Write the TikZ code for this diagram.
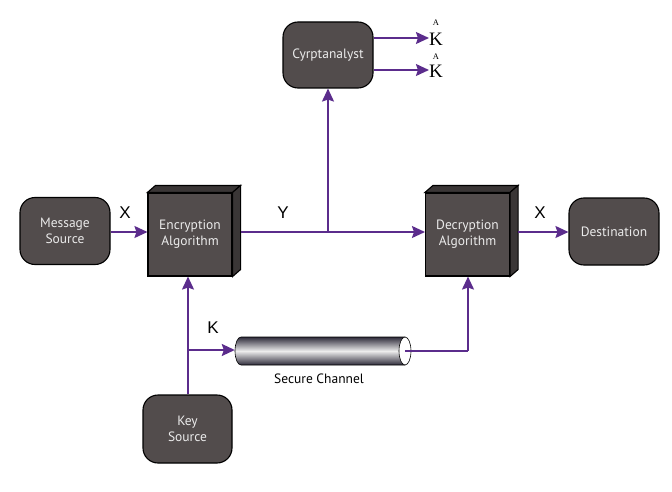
\documentclass[tikz,border=0pt]{standalone}
\usepackage{fontspec}
\setmainfont{Liberation Sans}
\newfontfamily\boxfont{PT Sans}
\newfontfamily\serffont{Liberation Serif}
\usetikzlibrary{arrows.meta,calc}
\definecolor{boxfill}{HTML}{524C4C}
\definecolor{boxside}{HTML}{3A3636}
\definecolor{flow}{HTML}{5B2C8C}
\definecolor{cyl}{HTML}{2E2B3A}
\tikzset{
  rbox/.style={draw=black, line width=1.1pt, fill=boxfill, rounded corners=15pt,
    minimum width=90pt, minimum height=67pt, align=center, text=white!92!black,
    font=\boxfont\fontsize{13.5}{16}\selectfont},
  cube/.style={draw=black, line width=1.1pt, fill=boxfill, minimum width=84pt,
    minimum height=83pt, align=center, text=white!92!black,
    font=\boxfont\fontsize{13.5}{16}\selectfont},
  cubeface/.style={draw=black, line width=1.1pt, fill=boxside},
  flowline/.style={draw=flow, line width=1.7pt},
  flowarrow/.style={flowline, -{Stealth[length=13pt,width=12pt,inset=2pt]}},
  lbl/.style={font=\fontsize{17}{19}\selectfont},
  khat/.style={font=\serffont\fontsize{19}{20}\selectfont, inner sep=0pt},
  hatA/.style={font=\serffont\fontsize{8.5}{9}\selectfont, inner sep=0pt}
}
\begin{document}
\begin{tikzpicture}[x=1pt,y=-1pt]
\useasboundingbox (0,0) rectangle (672,492);
% nodes
\node[rbox] (msg) at (65,231) {Message\\Source};
\node[cube] (enc) at (190,234.5) {Encryption\\Algorithm};
\node[cube] (dec) at (467.5,234.5) {Decryption\\Algorithm};
\node[rbox] (dst) at (614,231.5) {Destination};
\node[rbox, minimum height=66pt] (cry) at (328,55) {Cyrptanalyst};
\node[rbox, minimum width=89pt, minimum height=68pt] (key) at (187.5,429) {Key\\Source};
% 3D faces
\foreach \b in {enc,dec}{
  \draw[cubeface] (\b.north west) -- ++(8,-7) -- ($(\b.north east)+(8,-7)$) -- (\b.north east) -- cycle;
  \draw[cubeface] (\b.north east) -- ++(8,-7) -- ($(\b.south east)+(8,-7)$) -- (\b.south east) -- cycle;
}
% K-hat labels
\node[khat] (k1) at (436,39) {K};
\node[khat] (k2) at (436,71) {K};
\node[hatA] (a1) at (436,23) {A};
\node[hatA] (a2) at (436,57) {A};
% coordinates
\coordinate (encout) at ($(enc.east)+(8,-2.5)$);
\coordinate (j) at (328,232);
\coordinate (decout) at ($(dec.east)+(8,-2.5)$);
\coordinate (kb) at (188,350);
% cylinder
\node[minimum width=176pt, minimum height=28pt, inner sep=0pt] (pipe) at (323,351) {};
\shade[top color=cyl, bottom color=cyl, middle color=white!93!black, draw=black, line width=0.6pt]
  (241,337) -- (405,337) -- (405,365) -- (241,365) arc[start angle=90, end angle=270, x radius=6, y radius=14] -- cycle;
\draw[fill=white, line width=0.6pt] (405,351) ellipse [x radius=6, y radius=14];
\coordinate (pipeout) at (405,351);
\node[font=\boxfont\fontsize{13.5}{16}\selectfont] (sc) at (319,379) {Secure Channel};
% connectors
\draw[flowarrow] (msg.east |- 0,232) -- (enc.west |- 0,232);
\draw[flowline] (encout) -- (j);
\draw[flowarrow] (j) -- (dec.west |- j);
\draw[flowarrow] (j) -- (cry.south);
\draw[flowarrow] (decout) -- (dst.west |- decout);
\draw[flowarrow] (cry.east |- 0,38) -- (k1.west |- 0,38);
\draw[flowarrow] (cry.east |- 0,70) -- (k2.west |- 0,70);
\draw[flowarrow] (key.north -| kb) -- (enc.south -| kb);
\draw[flowarrow] (kb) -- (pipe.west |- kb);
\draw[flowline] (pipeout) -- (468,351);
\draw[flowarrow] (468,351) -- (dec.south -| 468,0);
% labels
\node[lbl] (x1) at (125,213) {X};
\node[lbl] (y1) at (283,213) {Y};
\node[lbl] (x2) at (540,213) {X};
\node[lbl] (kl) at (213,328) {K};
\end{tikzpicture}
\end{document}
